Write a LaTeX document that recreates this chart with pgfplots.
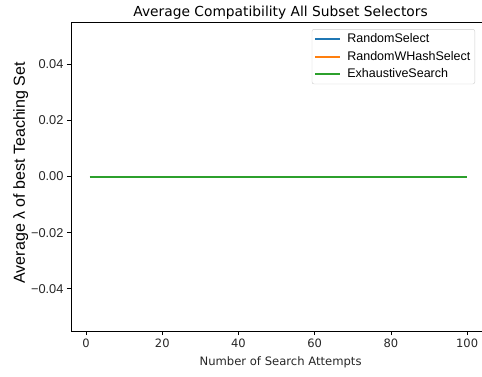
\documentclass[border=0pt]{standalone}
\usepackage{fontspec}
\setmainfont{DejaVu Sans}
\newfontfamily\arial{Liberation Sans}
\usepackage{pgfplots}
\pgfplotsset{compat=1.18}
\definecolor{tabblue}{HTML}{1F77B4}
\definecolor{taborange}{HTML}{FF7F0E}
\definecolor{tabgreen}{HTML}{2CA02C}
\begin{document}
\begin{tikzpicture}
\begin{axis}[
  scale only axis,
  width=415pt, height=309pt,
  at={(0,0)}, anchor=south west,
  xmin=-3.95, xmax=104.95,
  ymin=-0.055, ymax=0.055,
  axis line style={line width=0.8pt},
  tick align=outside,
  xtick pos=bottom, ytick pos=left,
  major tick length=4pt,
  tick style={line width=0.8pt, black},
  scaled y ticks=false,
  xtick={0,20,40,60,80,100},
  xticklabels={0,20,40,60,80,100},
  ytick={-0.04,-0.02,0,0.02,0.04},
  yticklabels={−0.04,−0.02,0.00,0.02,0.04},
  xticklabel style={font=\fontsize{11.5}{13}\selectfont, color=black!85},
  yticklabel style={font=\arial\fontsize{12.8}{14}\selectfont, color=black!85},
  title={Average Compatibility All Subset Selectors},
  title style={font=\fontsize{13.8}{16}\selectfont, at={(axis description cs:0.505,1)}, anchor=base, yshift=-1pt},
  xlabel={Number of Search Attempts},
  xlabel style={font=\fontsize{11.6}{13}\selectfont, at={(axis description cs:0.505,0)}, anchor=base, yshift=-34pt, color=black!85},
  ylabel={Average λ of best Teaching Set},
  ylabel style={font=\arial\fontsize{16}{18}\selectfont, at={(axis description cs:0,0.512)}, anchor=base, yshift=46pt},
  legend style={at={(axis description cs:0.9735,0.977)}, anchor=north east,
    draw=black!20, rounded corners=2pt, font=\arial\fontsize{12.5}{15}\selectfont,
    inner sep=2.5pt, row sep=3pt, /tikz/every odd column/.append style={column sep=4pt}},
  legend cell align=left,
  legend image code/.code={\draw[#1, line width=1.8pt] (0pt,0pt) -- (25pt,0pt);},
]
\addplot[tabblue, line width=2pt] coordinates {(1,0) (100,0)};
\addlegendentry{RandomSelect}
\addplot[taborange, line width=2pt] coordinates {(1,0) (100,0)};
\addlegendentry{RandomWHashSelect}
\addplot[tabgreen, line width=2pt] coordinates {(1,0) (100,0)};
\addlegendentry{ExhaustiveSearch}
\end{axis}
\pgfresetboundingbox
\path[use as bounding box] (-71pt,-45pt) rectangle (411pt,331pt);
\end{tikzpicture}
\end{document}
